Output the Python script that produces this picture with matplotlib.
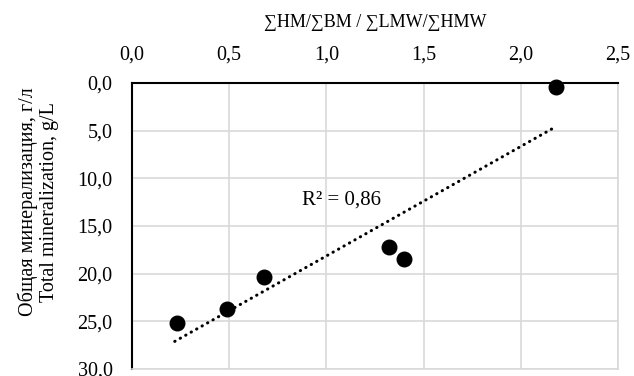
import matplotlib
matplotlib.use("Agg")
import matplotlib.pyplot as plt
import numpy as np

x_vals = [0.23, 0.49, 0.68, 1.32, 1.40, 2.18]
y_vals = [25.15, 23.7, 20.4, 17.2, 18.5, 0.45]
x_ticks = [0.0, 0.5, 1.0, 1.5, 2.0, 2.5]
y_ticks = [0, 5, 10, 15, 20, 25, 30]
r2_label = "R² = 0,86"
x_title = "∑HM/∑BM / ∑LMW/∑HMW"
y_title = "Общая минерализация, г/л\nTotal mineralization, g/L"

plt.rcParams['font.family'] = ['Liberation Serif', 'DejaVu Serif']

fig = plt.figure(figsize=(6.34, 3.76), dpi=100)
ax = fig.add_axes([132/634, 1-369/376, (618-132)/634, (369-83)/376])

ax.set_xlim(0, 2.5)
ax.set_ylim(30, 0)
ax.xaxis.tick_top()
ax.xaxis.set_label_position('top')
ax.set_xticks(x_ticks)
ax.set_yticks(y_ticks)
ax.set_xticklabels([f"{v:.1f}".replace('.', ',') for v in x_ticks])
ax.set_yticklabels([f"{v:.1f}".replace('.', ',') for v in y_ticks])
ax.tick_params(length=0, labelsize=14.5)
ax.tick_params(axis='x', pad=13.5)
ax.tick_params(axis='y', pad=14)
ax.grid(True, color='#d9d9d9', linewidth=1.2)
ax.set_axisbelow(True)
for s in ['right', 'bottom']:
    ax.spines[s].set_color('#d9d9d9')
    ax.spines[s].set_linewidth(1.2)
for s in ['left', 'top']:
    ax.spines[s].set_color('black')
    ax.spines[s].set_linewidth(1.5)

xa = np.array(x_vals)
ya = np.array(y_vals)
k, b = np.polyfit(xa, ya, 1)
xl = np.array([xa.min() - 0.01, xa.max()])
ax.plot(xl, k*xl + b, linestyle=(0, (0.1, 1.95)), color='black', linewidth=2.2,
        dash_capstyle='round', zorder=3)
ax.scatter(xa, ya, s=110, color='black', zorder=4, clip_on=False)

ax.text(0.875, 12.3, r2_label, fontsize=15, va='center', ha='left')
ax.set_xlabel(x_title, fontsize=13, labelpad=13)
ax.set_ylabel(y_title, fontsize=14.5, linespacing=1.15)
ax.yaxis.set_label_coords(-0.150, 0.585)

fig.savefig("out.png", dpi=100)
